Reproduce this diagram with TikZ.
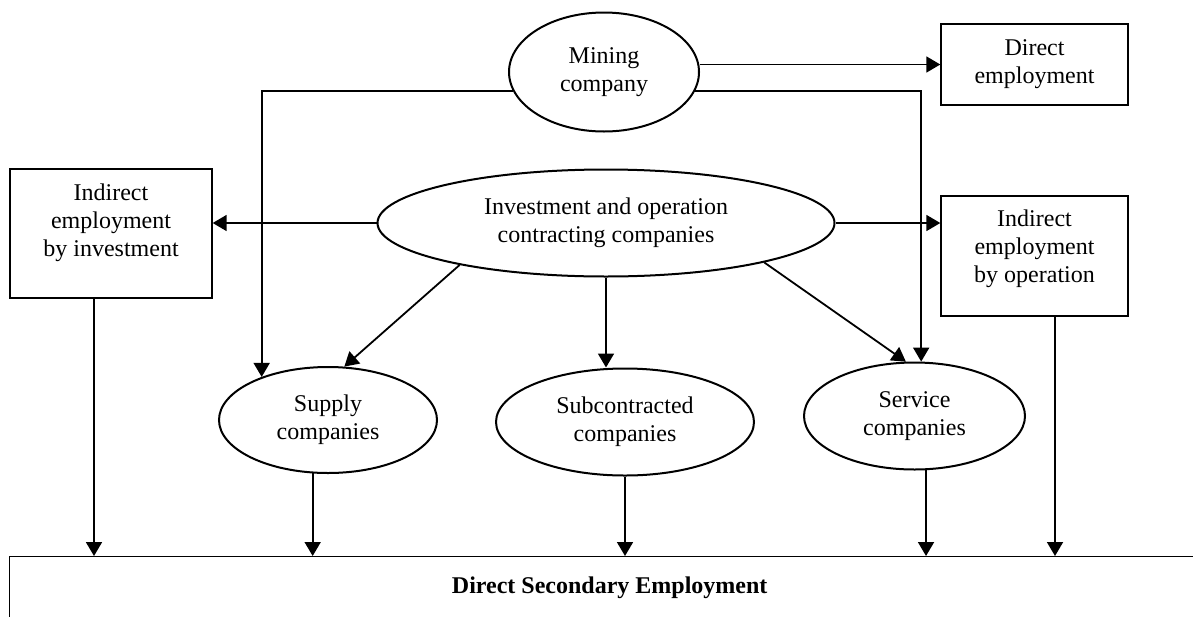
\documentclass[tikz,border=0pt]{standalone}
\usepackage{fontspec}
\setmainfont{Liberation Serif}
\usetikzlibrary{arrows.meta,shapes.geometric}

\begin{document}
\begin{tikzpicture}[x=0.5pt,y=-0.5pt,
    firm/.style={draw,ellipse,line width=1pt,inner sep=0pt,align=center,font=\fontsize{12}{14}\selectfont},
    jobbox/.style={draw,rectangle,line width=0.7pt,inner sep=0pt,align=center,font=\fontsize{12}{14}\selectfont},
    flow/.style={-{Triangle[length=7pt,width=8pt]},line width=0.9pt}]
    \useasboundingbox (0,0) rectangle (1193,616);
    \clip (0,0) rectangle (1193,616);
    \node (mining) [firm,minimum width=95pt,minimum height=59.5pt] at (604,72) {Mining\\company};
    \node (direct) [jobbox,minimum width=93.5pt,minimum height=40.5pt] at (1034.5,64.5) {Direct\\employment};
    \node (invest) [firm,minimum width=228.5pt,minimum height=53.5pt] at (606,223) {Investment and operation\\contracting companies};
    \node (indinv) [jobbox,minimum width=101pt,minimum height=64.5pt,text depth=13.1pt] at (111,233.5) {Indirect\\employment\\by investment};
    \node (indop) [jobbox,minimum width=93.5pt,minimum height=60pt,text depth=10.1pt] at (1034.5,256) {Indirect\\employment\\by operation};
    \node (supply) [firm,minimum width=109pt,minimum height=53pt] at (328,420) {Supply\\companies};
    \node (sub) [firm,minimum width=129pt,minimum height=53.5pt] at (625,422) {Subcontracted\\companies};
    \node (service) [firm,minimum width=110.5pt,minimum height=53.5pt] at (914.5,416) {Service\\companies};
    \node (secondary) [jobbox,anchor=north west,minimum width=600pt,minimum height=31pt,font=\fontsize{12}{14}\selectfont\bfseries] at (9,556) {Direct Secondary Employment};
    \coordinate (indinv-out) at ([xshift=-8.5pt]indinv.south);
    \coordinate (indop-out) at ([xshift=10.25pt]indop.south);
    \draw [flow] (direct.west -| mining.east) -- (direct.west);
    \draw [flow] (mining.192) -| (supply.147);
    \draw [flow] (mining.348) -| (service.83);
    \draw [flow] (invest.west) -- (invest.west -| indinv.east);
    \draw [flow] (invest.east) -- (invest.east -| indop.west);
    \draw [flow] (invest.196) -- (supply.73);
    \draw [flow] (invest.south) -- (invest.south |- sub.north);
    \draw [flow] (invest.346) -- (service.99);
    \draw [flow] (indinv-out) -- (indinv-out |- secondary.north);
    \draw [flow] (supply.254) -- (supply.254 |- secondary.north);
    \draw [flow] (sub.south) -- (sub.south |- secondary.north);
    \draw [flow] (service.282) -- (service.282 |- secondary.north);
    \draw [flow] (indop-out) -- (indop-out |- secondary.north);
\end{tikzpicture}
\end{document}
